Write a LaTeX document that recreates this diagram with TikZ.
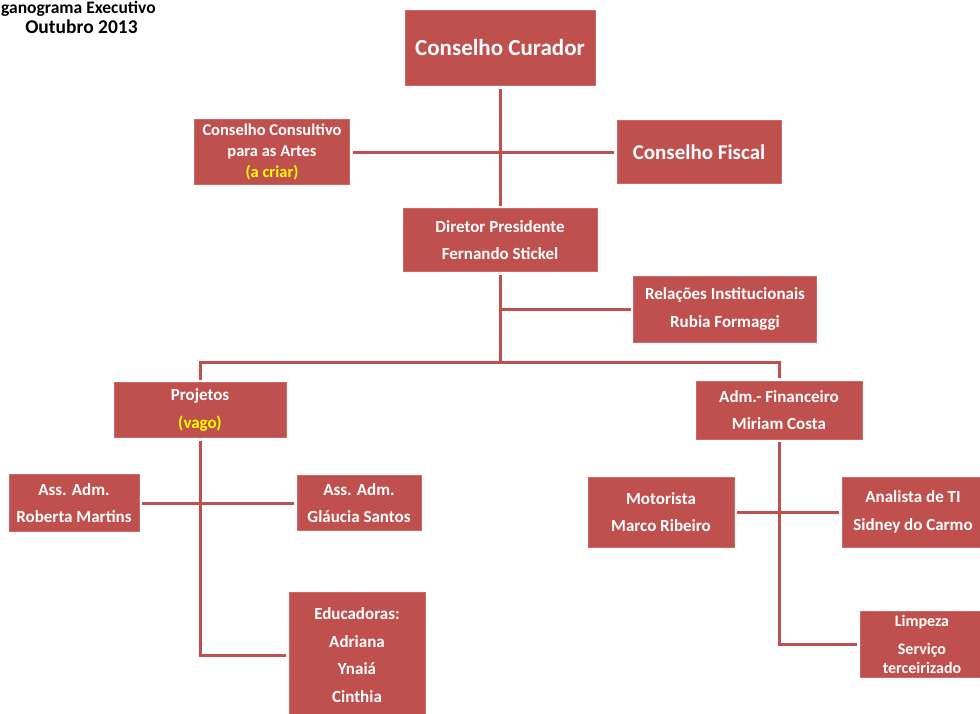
\documentclass[tikz,border=0pt]{standalone}
\usepackage{fontspec}
\setmainfont{Carlito}
\usetikzlibrary{positioning}
\definecolor{boxred}{HTML}{C0504D}
\definecolor{vago}{HTML}{FFFF00}
\tikzset{orgbox/.style = {fill = boxred, draw = boxred!85!white, text = white, align = center,
    inner sep = 0pt, outer sep = 3pt, font = \bfseries\fontsize{17}{27.5}\selectfont},
  bigbox/.style = {orgbox, font = \bfseries\fontsize{23}{27}\selectfont},
  conn/.style = {draw = boxred, line width = 3pt}}
\newcommand{\tbd}[1]{\textcolor{vago}{#1}}

\begin{document}
\begin{tikzpicture}[x = 1pt, y = -1pt]
\useasboundingbox (0,0) rectangle (980,713);
% titulo
\node[anchor = west, inner sep = 0pt, font = \bfseries\fontsize{17.5}{20}\selectfont] (titulo) at (1,9) {ganograma Executivo};
\node[font = \bfseries\fontsize{19.5}{22}\selectfont] (data) at (81.5,27) {Outubro 2013};
% conselhos
\node[bigbox, minimum width = 190pt, minimum height = 75pt] (curador) at (500,48) {Conselho Curador};
\node[orgbox, minimum width = 155pt, minimum height = 65pt, font = \bfseries\fontsize{16.5}{21}\selectfont] (consultivo) at (272,152)
  {Conselho Consultivo\\para as Artes\\\tbd{(a criar)}};
\node[bigbox, minimum width = 164pt, minimum height = 63pt, font = \bfseries\fontsize{21}{25}\selectfont] (fiscal) at (699,152) {Conselho Fiscal};
% diretoria
\node[orgbox, minimum width = 194pt, minimum height = 63pt] (diretor) at (500,240) {Diretor Presidente\\Fernando Stickel};
\node[orgbox, minimum width = 183pt, minimum height = 66pt] (relacoes) at (725,309) {Relações Institucionais\\Rubia Formaggi};
\coordinate (bus) at (500,362);
\node[orgbox, minimum width = 172pt, minimum height = 55pt] (projetos) at (200,410) {Projetos\\\tbd{(vago)}};
\node[orgbox, minimum width = 166pt, minimum height = 58pt] (admfin) at (779,410) {Adm.- Financeiro\\Miriam Costa};
% projetos
\node[orgbox, minimum width = 130pt, minimum height = 57pt] (roberta) at (74,503) {Ass. Adm.\\Roberta Martins};
\node[orgbox, minimum width = 124pt, minimum height = 55pt] (glaucia) at (359,503) {Ass. Adm.\\Gláucia Santos};
\node[orgbox, minimum width = 136pt, minimum height = 125pt] (educadoras) at (357,655) {Educadoras:\\Adriana\\Ynaiá\\Cinthia};
% adm.- financeiro
\node[orgbox, minimum width = 146pt, minimum height = 70pt] (motorista) at (661,512) {Motorista\\Marco Ribeiro};
\node[orgbox, minimum width = 142pt, minimum height = 70pt] (analista) at (913,512) {Analista de TI\\Sidney do Carmo};
\node[orgbox, minimum width = 124pt, minimum height = 66pt, font = \bfseries\fontsize{16}{19}\selectfont] (limpeza) at (922,644)
  {Limpeza\\[9pt]Serviço\\terceirizado};

\draw[conn] (curador) -- (diretor);
\draw[conn] (consultivo) -- (fiscal);
\draw[conn] (diretor) -- (bus);
\draw[conn] (relacoes) -- (relacoes -| bus);
\draw[conn] (projetos) |- (bus) -| (admfin);
\draw[conn] (projetos) |- (educadoras);
\draw[conn] (roberta) -- (glaucia);
\draw[conn] (admfin) |- (limpeza);
\draw[conn] (motorista) -- (analista);
\end{tikzpicture}
\end{document}
